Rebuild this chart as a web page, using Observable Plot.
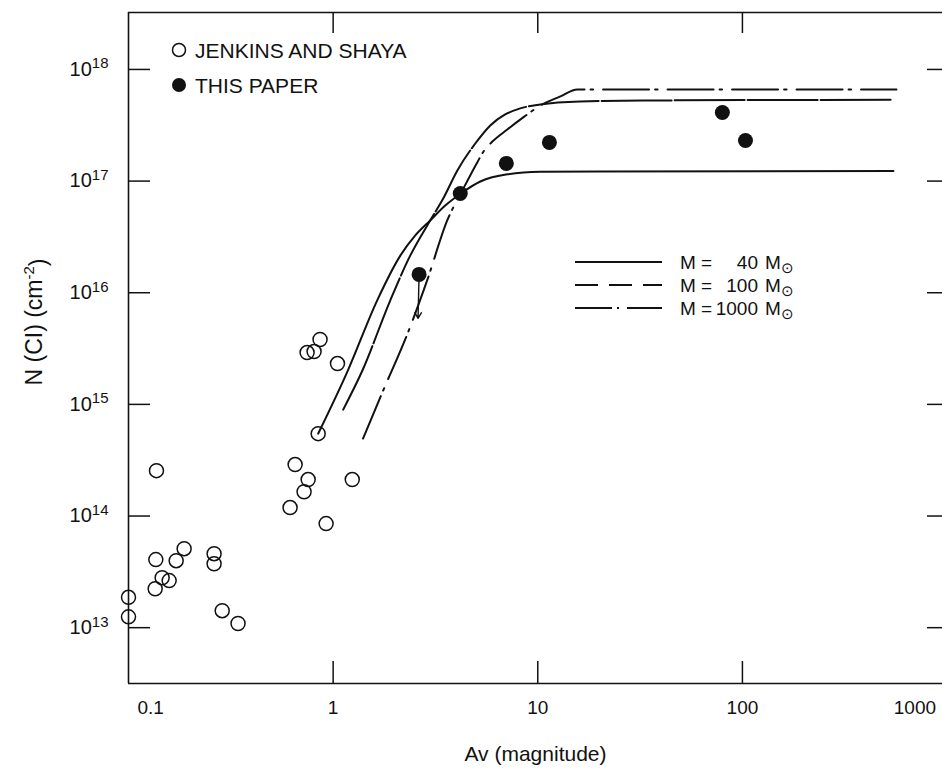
<!DOCTYPE html>
<html>
<head>
<meta charset="utf-8">
<script src="https://cdn.jsdelivr.net/npm/d3@7"></script>
<script src="https://cdn.jsdelivr.net/npm/@observablehq/plot@0.6"></script>
<style>
html, body { margin: 0; padding: 0; background: #fff; overflow: hidden; }
#chart svg { display: block; }
</style>
</head>
<body>
<div id="chart"></div>
<script>
// ---- data ----
// Jenkins and Shaya (open circles)
const jsAv = [0.1, 0.1, 0.137, 0.136, 0.187, 0.171, 0.146, 0.158, 0.135, 0.262, 0.262, 0.287, 0.343,
              0.652, 0.755, 0.721, 0.616, 0.924, 1.24, 0.845, 0.863, 0.746, 0.807, 1.05];
const jsN  = [1.87e13, 1.25e13, 2.55e14, 4.07e13, 5.1e13, 3.98e13, 2.8e13, 2.64e13, 2.23e13, 4.6e13, 3.74e13, 1.42e13, 1.09e13,
              2.89e14, 2.12e14, 1.65e14, 1.19e14, 8.55e13, 2.12e14, 5.47e14, 3.81e15, 2.91e15, 2.97e15, 2.32e15];
// This paper (filled circles)
const paperAv = [2.63, 4.18, 7.02, 11.4, 79.8, 103.5];
const paperN  = [1.46e16, 7.74e16, 1.44e17, 2.22e17, 4.12e17, 2.31e17];
// upper-limit arrow on the first filled point
const arrowAv1 = [2.63], arrowN1 = [1.46e16], arrowAv2 = [2.6], arrowN2 = [5.9e15];
// model curves
const m40Av = [0.845, 1.18, 1.64, 2.13, 2.52, 2.98, 3.53, 4.28, 5.24, 7.10, 10.3, 20.2, 547];
const m40N  = [5.47e14, 2.01e15, 8.51e15, 2.15e16, 3.26e16, 4.44e16, 6.04e16, 7.91e16, 9.91e16, 1.15e17, 1.21e17, 1.22e17, 1.23e17];
const m100Av = [1.12, 1.39, 1.90, 2.38, 2.98, 3.45, 4.04, 4.95, 5.86, 6.93, 8.21, 10.3, 16.1, 35.5, 547];
const m100N  = [8.98e14, 2.01e15, 8.51e15, 2.15e16, 4.44e16, 6.98e16, 1.24e17, 2.17e17, 3.15e17, 3.95e17, 4.48e17, 4.85e17, 5.16e17, 5.27e17, 5.35e17];
const m1000Av = [1.40, 1.74, 2.30, 2.88, 3.61, 4.28, 5.06, 5.47, 6.00, 7.10, 8.49, 10.3, 12.9, 15.6, 20.2, 566];
const m1000N  = [4.94e14, 1.28e15, 4.22e15, 1.29e16, 4.44e16, 8.24e16, 1.47e17, 1.88e17, 2.26e17, 2.90e17, 3.72e17, 4.75e17, 5.73e17, 6.62e17, 6.62e17, 6.62e17];
// axes
const xTicks = [1, 10, 100];
const xEndTicks = [0.1, 1000];
const yTicks = [1e13, 1e14, 1e15, 1e16, 1e17, 1e18];
const xDomain = [0.1, 950];
const yDomain = [Math.pow(10, 12.5), Math.pow(10, 18.51)];
const legendLabels = ["JENKINS AND SHAYA", "THIS PAPER"];
const modelMasses = ["40", "100", "1000"];

// ---- build ----
const rows = (xs, ys) => xs.map((x, i) => ({x, y: ys[i]}));
const W = 942, H = 775, mL = 128, mT = 12, mR = 0, mB = 92;
const plotW = W - mL - mR, plotH = H - mT - mB;
const ink = "#111";
const font = "'Liberation Sans', Arial, Helvetica, sans-serif";

const plot = Plot.plot({
  width: W, height: H,
  marginLeft: mL, marginTop: mT, marginRight: mR, marginBottom: mB,
  style: {fontFamily: font, fontSize: "19px", color: ink, background: "#fff"},
  x: {type: "log", domain: xDomain, label: null},
  y: {type: "log", domain: yDomain, label: null},
  marks: [
    // frame (left, bottom, top)
    Plot.ruleX([xDomain[0]], {stroke: ink, strokeWidth: 1.6}),
    Plot.ruleY([yDomain[0]], {stroke: ink, strokeWidth: 1.6}),
    Plot.ruleY([yDomain[1]], {stroke: ink, strokeWidth: 1.6}),
    // inward ticks
    Plot.tickY(yTicks, {y: d => d, insetRight: plotW - 22, stroke: ink, strokeWidth: 1.5}),
    Plot.tickY(yTicks, {y: d => d, insetLeft: plotW - 15, stroke: ink, strokeWidth: 1.5}),
    Plot.tickX(xTicks, {x: d => d, insetTop: plotH - 22, stroke: ink, strokeWidth: 1.5}),
    Plot.tickX(xTicks, {x: d => d, insetBottom: plotH - 21, stroke: ink, strokeWidth: 1.5}),
    // tick labels
    Plot.axisX({ticks: xTicks, tickSize: 0, tickPadding: 16.5, tickFormat: d => String(d), fontSize: 19, fill: ink}),
    Plot.text([xEndTicks[0]], {x: d => d, frameAnchor: "bottom", text: d => String(d), textAnchor: "start", lineAnchor: "top", dx: 9, dy: 16.5, fontSize: 19, fill: ink}),
    Plot.text([xEndTicks[1]], {x: d => d, frameAnchor: "bottom", text: d => String(d), textAnchor: "end", lineAnchor: "top", dx: -11, dy: 16.5, fontSize: 19, fill: ink}),
    Plot.axisY({ticks: yTicks, tickSize: 0, tickPadding: 20, tickFormat: d => "10^" + Math.round(Math.log10(d)), fontSize: 20, fill: ink}),
    // x axis title
    Plot.text(["Av (magnitude)"], {frameAnchor: "bottom", text: d => d, dy: 77, fontSize: 21, fill: ink}),
    // model curves
    Plot.line(rows(m40Av, m40N), {x: "x", y: "y", curve: "monotone-x", stroke: ink, strokeWidth: 2}),
    Plot.line(rows(m100Av, m100N), {x: "x", y: "y", curve: "monotone-x", stroke: ink, strokeWidth: 2, strokeDasharray: "70,3"}),
    Plot.line(rows(m1000Av, m1000N), {x: "x", y: "y", curve: "monotone-x", stroke: ink, strokeWidth: 2, strokeDasharray: "46,6,2.5,10"}),
    // data points
    Plot.dot(rows(jsAv, jsN), {x: "x", y: "y", r: 7, stroke: ink, strokeWidth: 1.5, fill: "none"}),
    Plot.arrow(arrowAv1.map((x, i) => ({x1: x, y1: arrowN1[i], x2: arrowAv2[i], y2: arrowN2[i]})),
      {x1: "x1", y1: "y1", x2: "x2", y2: "y2", stroke: ink, strokeWidth: 1.4, headLength: 7}),
    Plot.dot(rows(paperAv, paperN), {x: "x", y: "y", r: 7.5, fill: ink, stroke: "none"})
  ]
});

document.getElementById("chart").appendChild(plot);
const svg = d3.select(plot);

// superscripts on y tick labels
svg.selectAll('g[aria-label="y-axis tick label"] text').each(function () {
  const t = d3.select(this);
  const parts = t.text().split("^");
  t.text(parts[0]);
  t.append("tspan").attr("dy", "-0.5em").attr("font-size", 15).text(parts[1]);
});

// y axis title
const yt = svg.append("text")
  .attr("transform", "translate(42,322) rotate(-90)")
  .attr("text-anchor", "middle").attr("font-size", 23).attr("fill", ink).attr("font-family", font);
yt.append("tspan").text("N (CI) (cm");
yt.append("tspan").attr("dy", "-0.55em").attr("font-size", 15).text("-2");
yt.append("tspan").attr("dy", "0.55em").text(")");

// top-left legend
const lg = svg.append("g").attr("font-family", font).attr("font-size", 21).attr("fill", ink).attr("text-anchor", "start");
lg.append("circle").attr("cx", 179).attr("cy", 50).attr("r", 6.5).attr("fill", "none").attr("stroke", ink).attr("stroke-width", 1.5);
lg.append("text").attr("x", 195).attr("y", 50).attr("dy", "0.36em").text(legendLabels[0]);
lg.append("circle").attr("cx", 179).attr("cy", 85).attr("r", 7).attr("fill", ink);
lg.append("text").attr("x", 195).attr("y", 85).attr("dy", "0.36em").text(legendLabels[1]);

// model legend
const dashes = [null, "23,11", "37,5,2,8"];
const rowsY = [262, 285, 308];
const ml = svg.append("g").attr("font-family", font).attr("font-size", 19).attr("fill", ink).attr("text-anchor", "start");
modelMasses.forEach((m, i) => {
  const y = rowsY[i];
  const ln = ml.append("line").attr("x1", 575).attr("x2", 662).attr("y1", y).attr("y2", y)
    .attr("stroke", ink).attr("stroke-width", 2);
  if (dashes[i]) ln.attr("stroke-dasharray", dashes[i]);
  ml.append("text").attr("x", 680).attr("y", y).attr("dy", "0.36em").text("M =");
  ml.append("text").attr("x", 758).attr("y", y).attr("dy", "0.36em").attr("text-anchor", "end").text(m);
  const t = ml.append("text").attr("x", 765).attr("y", y).attr("dy", "0.36em");
  t.append("tspan").text("M");
  t.append("tspan").attr("dy", "0.3em").attr("font-size", 15).text("\u2299");
});
</script>
</body>
</html>
